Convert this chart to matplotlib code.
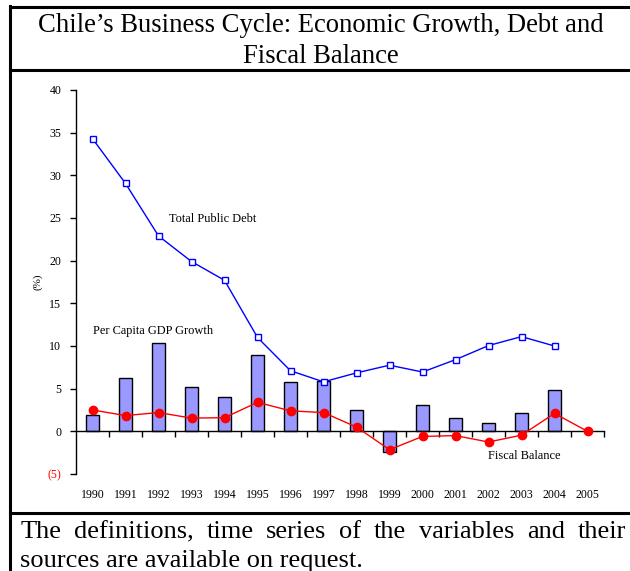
import matplotlib
matplotlib.use('Agg')
import matplotlib.pyplot as plt
from matplotlib.lines import Line2D

plt.rcParams['font.family'] = ['Liberation Serif', 'DejaVu Serif']

years = ['1990', '1991', '1992', '1993', '1994', '1995', '1996', '1997',
         '1998', '1999', '2000', '2001', '2002', '2003', '2004', '2005']
gdp_growth = [1.9, 6.2, 10.4, 5.2, 4.0, 8.9, 5.8, 5.9,
              2.5, -2.4, 3.1, 1.55, 1.0, 2.1, 4.9]
public_debt = [34.3, 29.05, 22.9, 19.9, 17.7, 11.0, 7.1, 5.8,
               6.85, 7.75, 6.95, 8.4, 10.05, 11.1, 10.0]
fiscal_balance = [2.5, 1.85, 2.2, 1.55, 1.6, 3.4, 2.4, 2.2,
                  0.5, -2.15, -0.6, -0.5, -1.25, -0.45, 2.1, 0.0]
yticks = [-5, 0, 5, 10, 15, 20, 25, 30, 35, 40]
ytick_labels = ['(5)', '0', '5', '10', '15', '20', '25', '30', '35', '40']

title_lines = ['Chile\u2019s Business Cycle: Economic Growth, Debt and', 'Fiscal Balance']
note_line1 = 'The definitions, time series of the variables and their'
note_line2 = 'sources are available on request.'

W, H = 630, 571
fig = plt.figure(figsize=(W / 100, H / 100), dpi=100)

def fx(px):
    return px / W

def fy(py):
    return 1 - py / H

# frame lines
for (x0, y0, x1, y1) in [(10, 6.5, 630, 6.5), (10, 70, 630, 70), (10, 513, 630, 513), (10, 5.5, 10, 571)]:
    fig.add_artist(Line2D([fx(x0), fx(x1)], [fy(y0), fy(y1)], color='black', lw=2.2))

# title
fig.text(fx(321), fy(32), title_lines[0], ha='center', va='baseline', fontsize=19.2)
fig.text(fx(321), fy(63), title_lines[1], ha='center', va='baseline', fontsize=19.2)

ax = fig.add_axes([fx(76), fy(474), fx(604) - fx(76), fy(90) - fy(474)])
x = list(range(len(years)))

ax.bar(x[:len(gdp_growth)], gdp_growth, width=0.42, color='#9999ff',
       edgecolor='black', linewidth=1, zorder=2)
ax.plot(x[:len(public_debt)], public_debt, color='#0000ff', lw=1, marker='s',
        markersize=5, markerfacecolor='white', markeredgecolor='#0000ff',
        markeredgewidth=1, zorder=3)
ax.plot(x, fiscal_balance, color='#ff0000', lw=1, marker='o', markersize=6,
        markerfacecolor='#ff0000', markeredgecolor='#ff0000', zorder=4)

ax.set_xlim(-0.5, len(years) - 0.5)
ax.set_ylim(-5, 40)

for s in ['top', 'right']:
    ax.spines[s].set_visible(False)
ax.spines['bottom'].set_position(('data', 0))
ax.spines['left'].set_linewidth(1)
ax.spines['bottom'].set_linewidth(1)

ax.set_yticks(yticks)
ax.set_yticklabels(ytick_labels, fontsize=8.6)
ax.get_yticklabels()[0].set_color('red')
ax.tick_params(axis='y', direction='out', length=4, width=1, pad=6.5)

ax.set_xticks([i + 0.5 for i in range(len(years))])
ax.set_xticklabels([])
ax.tick_params(axis='x', direction='out', length=4, width=1)

for i, yr in enumerate(years):
    ax.text(i, -0.055, yr, transform=ax.get_xaxis_transform(), ha='center',
            va='center', fontsize=8.6)

ax.text(-0.072, 0.5, '(%)', transform=ax.transAxes, rotation=90, ha='center',
        va='center', fontsize=8)

ax.text(2.33, 24.9, 'Total Public Debt', fontsize=8.9, va='center')
ax.text(0.01, 11.7, 'Per Capita GDP Growth', fontsize=8.9, va='center')
ax.text(11.97, -2.85, 'Fiscal Balance', fontsize=8.9, va='center')

# footer, first line justified
words = note_line1.split()
texts = [fig.text(0, fy(538), w, fontsize=19, va='baseline') for w in words]
r = fig.canvas.get_renderer()
widths = [t.get_window_extent(r).width / fig.bbox.width for t in texts]
x0, x1 = fx(20.5), fx(626)
gap = (x1 - x0 - sum(widths)) / (len(words) - 1)
pos = x0
for t, w in zip(texts, widths):
    t.set_x(pos)
    pos += w + gap
fig.text(x0, fy(567), note_line2, fontsize=19, va='baseline')

fig.savefig('out.png', dpi=100)
